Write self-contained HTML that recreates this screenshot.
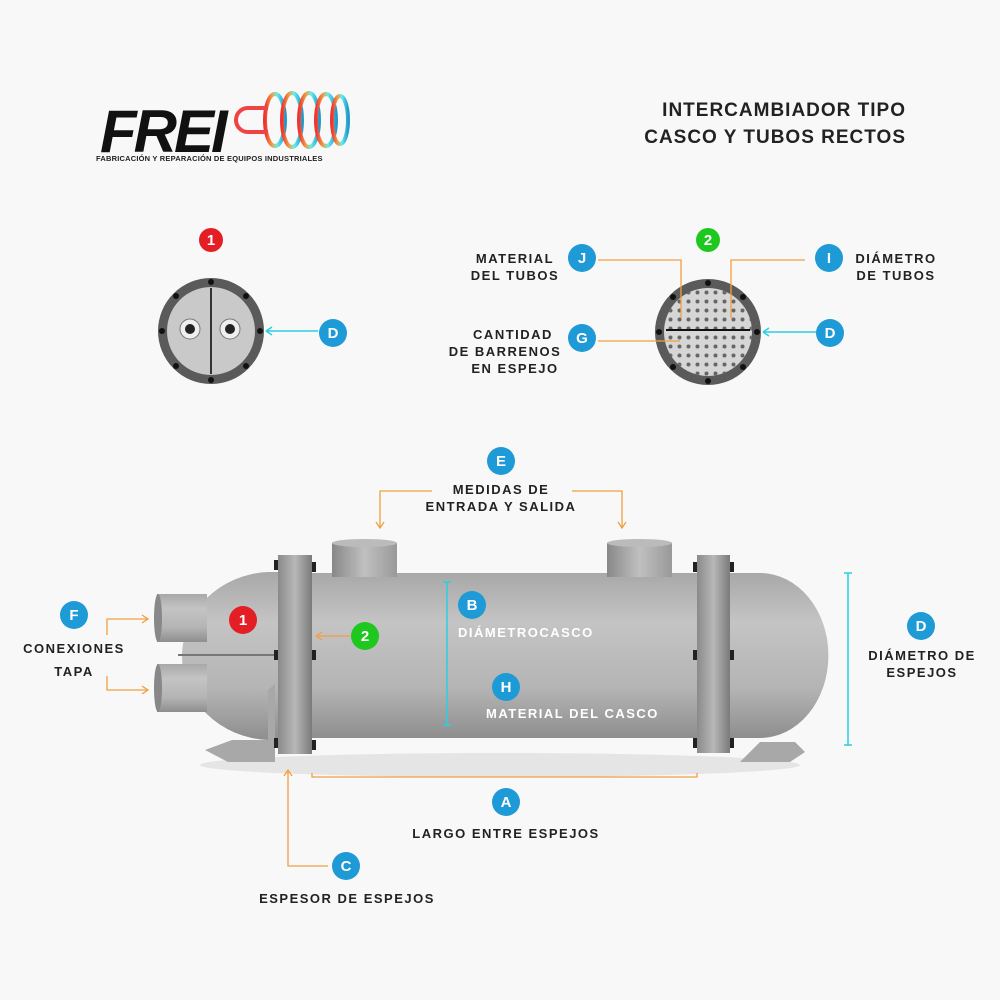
<!DOCTYPE html>
<html><head><meta charset="utf-8"><style>
body{margin:0;background:#f8f8f8;}
svg{display:block}
text{font-family:"Liberation Sans",sans-serif;font-weight:bold;fill:#222;letter-spacing:1.5px}
.c{fill:#fff;font-size:15px;text-anchor:middle;letter-spacing:0}
.l{font-size:13px;text-anchor:middle}
</style></head><body>
<svg width="1000" height="1000" viewBox="0 0 1000 1000">
<defs>
<linearGradient id="sh" x1="0" y1="0" x2="0" y2="1">
<stop offset="0" stop-color="#a8a8a8"/><stop offset="0.3" stop-color="#c4c4c4"/><stop offset="0.7" stop-color="#b4b4b4"/><stop offset="1" stop-color="#8e8e8e"/></linearGradient>
<linearGradient id="fl" x1="0" y1="0" x2="1" y2="0">
<stop offset="0" stop-color="#8a8a8a"/><stop offset="0.5" stop-color="#b8b8b8"/><stop offset="1" stop-color="#7a7a7a"/></linearGradient>
<linearGradient id="nz" x1="0" y1="0" x2="1" y2="0">
<stop offset="0" stop-color="#888"/><stop offset="0.5" stop-color="#c0c0c0"/><stop offset="1" stop-color="#999"/></linearGradient>
<pattern id="holes" width="9" height="9" patternUnits="userSpaceOnUse"><circle cx="4.5" cy="4.5" r="2" fill="#666"/></pattern>
<linearGradient id="lg" x1="0" y1="0" x2="1" y2="0"><stop offset="0" stop-color="#e33"/><stop offset="0.35" stop-color="#f0a040"/><stop offset="0.6" stop-color="#6ee"/><stop offset="1" stop-color="#29c"/></linearGradient>
</defs>
<!-- logo -->
<text x="100" y="152" style="font-size:60px;font-style:italic;font-weight:900;fill:#111;letter-spacing:-3px">FREI</text>
<g fill="none" stroke="url(#lg)" stroke-width="4">
<ellipse cx="275" cy="120" rx="10" ry="26"/><ellipse cx="292" cy="120" rx="10" ry="27"/><ellipse cx="309" cy="120" rx="10" ry="27"/><ellipse cx="326" cy="120" rx="10" ry="26"/><ellipse cx="340" cy="120" rx="8" ry="24"/>
<path d="M268 108 h-20 a12 12 0 0 0 0 24 h20" stroke="#e44"/></g>
<text x="96" y="161" style="font-size:7.5px;letter-spacing:0.2px">FABRICACIÓN Y REPARACIÓN DE EQUIPOS INDUSTRIALES</text>
<text x="906" y="116" style="font-size:19px;text-anchor:end;letter-spacing:1px">INTERCAMBIADOR TIPO</text>
<text x="906" y="143" style="font-size:19px;text-anchor:end;letter-spacing:1px">CASCO Y TUBOS RECTOS</text>

<!-- view 1 -->
<circle cx="211" cy="240" r="12" fill="#e31e24"/><text class="c" x="211" y="245">1</text>
<circle cx="211" cy="331" r="53" fill="#5a5a5a"/><circle cx="211" cy="331" r="44" fill="#c9c9c9"/>
<line x1="211" y1="288" x2="211" y2="374" stroke="#333" stroke-width="2"/>
<circle cx="190" cy="329" r="10" fill="#eee" stroke="#777"/><circle cx="190" cy="329" r="5" fill="#222"/>
<circle cx="230" cy="329" r="10" fill="#eee" stroke="#777"/><circle cx="230" cy="329" r="5" fill="#222"/>
<g fill="#111"><circle cx="211" cy="282" r="3"/><circle cx="211" cy="380" r="3"/><circle cx="162" cy="331" r="3"/><circle cx="260" cy="331" r="3"/><circle cx="176" cy="296" r="3"/><circle cx="246" cy="296" r="3"/><circle cx="176" cy="366" r="3"/><circle cx="246" cy="366" r="3"/></g>
<line x1="266" y1="331" x2="318" y2="331" stroke="#2ad0e0" stroke-width="1.5"/><path d="M266 331 l6 -4 M266 331 l6 4" stroke="#2ad0e0" stroke-width="1.5"/>
<circle cx="333" cy="333" r="14" fill="#1e9ad6"/><text class="c" x="333" y="338">D</text>

<!-- view 2 -->
<circle cx="708" cy="240" r="12" fill="#1ec81e"/><text class="c" x="708" y="245">2</text>
<circle cx="708" cy="332" r="53" fill="#5a5a5a"/><circle cx="708" cy="332" r="44" fill="#d6d6d6"/>
<circle cx="708" cy="332" r="44" fill="url(#holes)"/>
<line x1="666" y1="330" x2="750" y2="330" stroke="#111" stroke-width="2"/>
<g fill="#111"><circle cx="708" cy="283" r="3"/><circle cx="708" cy="381" r="3"/><circle cx="659" cy="332" r="3"/><circle cx="757" cy="332" r="3"/><circle cx="673" cy="297" r="3"/><circle cx="743" cy="297" r="3"/><circle cx="673" cy="367" r="3"/><circle cx="743" cy="367" r="3"/></g>
<g stroke="#f0a040" stroke-width="1.3" fill="none"><path d="M598 260 H681 V318"/><path d="M805 260 H731 V318"/><path d="M598 341 H680"/></g>
<line x1="763" y1="332" x2="816" y2="332" stroke="#2ad0e0" stroke-width="1.5"/><path d="M763 332 l6 -4 M763 332 l6 4" stroke="#2ad0e0" stroke-width="1.5"/>
<circle cx="582" cy="258" r="14" fill="#1e9ad6"/><text class="c" x="582" y="263">J</text>
<circle cx="582" cy="338" r="14" fill="#1e9ad6"/><text class="c" x="582" y="343">G</text>
<circle cx="829" cy="258" r="14" fill="#1e9ad6"/><text class="c" x="829" y="263">I</text>
<circle cx="830" cy="333" r="14" fill="#1e9ad6"/><text class="c" x="830" y="338">D</text>
<text class="l" x="515" y="263">MATERIAL</text><text class="l" x="515" y="280">DEL TUBOS</text>
<text class="l" x="513" y="339">CANTIDAD</text><text class="l" x="505" y="356">DE BARRENOS</text><text class="l" x="515" y="373">EN ESPEJO</text>
<text class="l" x="896" y="263">DIÁMETRO</text><text class="l" x="896" y="280">DE TUBOS</text>

<!-- E -->
<circle cx="501" cy="461" r="14" fill="#1e9ad6"/><text class="c" x="501" y="466">E</text>
<text class="l" x="501" y="494">MEDIDAS DE</text><text class="l" x="501" y="511">ENTRADA Y SALIDA</text>
<g stroke="#f0a040" stroke-width="1.3" fill="none"><path d="M432 491 H380 V528"/><path d="M376 522 l4 6 l4 -6"/><path d="M572 491 H622 V528"/><path d="M618 522 l4 6 l4 -6"/></g>

<!-- shadow -->
<ellipse cx="500" cy="765" rx="300" ry="12" fill="#ddd" opacity="0.7"/>
<!-- heads -->
<path d="M720 573 H760 A68 82 0 0 1 760 738 H720 Z" fill="url(#sh)"/>
<path d="M280 572 H268 A90 84 0 0 0 182 655 A90 84 0 0 0 268 740 H280 Z" fill="url(#sh)"/>
<line x1="178" y1="655" x2="275" y2="655" stroke="#777" stroke-width="2"/>
<!-- shell -->
<rect x="300" y="573" width="410" height="165" fill="url(#sh)"/>
<!-- top nozzles -->
<rect x="332" y="543" width="65" height="34" fill="url(#nz)"/><ellipse cx="364.5" cy="543" rx="32.5" ry="4" fill="#bbb"/>
<rect x="607" y="543" width="65" height="34" fill="url(#nz)"/><ellipse cx="639.5" cy="543" rx="32.5" ry="4" fill="#bbb"/>
<!-- left nozzles -->
<rect x="157" y="594" width="50" height="48" fill="url(#sh)"/><ellipse cx="158" cy="618" rx="4" ry="24" fill="#888"/>
<rect x="157" y="664" width="50" height="48" fill="url(#sh)"/><ellipse cx="158" cy="688" rx="4" ry="24" fill="#888"/>
<!-- saddles -->
<path d="M205 750 L232 740 H268 V690 L275 684 V762 H228 Z" fill="#a8a8a8"/>
<path d="M760 742 H795 L805 752 L790 762 H740 Z" fill="#a8a8a8"/>
<!-- flanges -->
<rect x="278" y="555" width="34" height="199" fill="url(#fl)"/>
<rect x="697" y="555" width="33" height="198" fill="url(#fl)"/>
<g fill="#222"><rect x="274" y="560" width="4" height="10"/><rect x="312" y="562" width="4" height="10"/><rect x="274" y="650" width="4" height="10"/><rect x="312" y="650" width="4" height="10"/><rect x="274" y="738" width="4" height="10"/><rect x="312" y="740" width="4" height="10"/>
<rect x="693" y="562" width="4" height="10"/><rect x="730" y="562" width="4" height="10"/><rect x="693" y="650" width="4" height="10"/><rect x="730" y="650" width="4" height="10"/><rect x="693" y="738" width="4" height="10"/><rect x="730" y="738" width="4" height="10"/></g>

<!-- labels on body -->
<circle cx="243" cy="620" r="14" fill="#e31e24"/><text class="c" x="243" y="625">1</text>
<circle cx="365" cy="636" r="14" fill="#1ec81e"/><text class="c" x="365" y="641">2</text>
<path d="M350 636 H316 M316 636 l6 -4 M316 636 l6 4" stroke="#f0a040" stroke-width="1.3" fill="none"/>
<g stroke="#2ad0e0" stroke-width="1.5"><line x1="447" y1="582" x2="447" y2="725"/><line x1="443" y1="582" x2="451" y2="582"/><line x1="443" y1="725" x2="451" y2="725"/>
<line x1="848" y1="573" x2="848" y2="745"/><line x1="844" y1="573" x2="852" y2="573"/><line x1="844" y1="745" x2="852" y2="745"/></g>
<circle cx="472" cy="605" r="14" fill="#1e9ad6"/><text class="c" x="472" y="610">B</text>
<text x="458" y="637" style="font-size:13px;fill:#fff">DIÁMETROCASCO</text>
<circle cx="506" cy="687" r="14" fill="#1e9ad6"/><text class="c" x="506" y="692">H</text>
<text x="486" y="718" style="font-size:13px;fill:#fff">MATERIAL DEL CASCO</text>
<circle cx="921" cy="626" r="14" fill="#1e9ad6"/><text class="c" x="921" y="631">D</text>
<text class="l" x="922" y="660">DIÁMETRO DE</text><text class="l" x="922" y="677">ESPEJOS</text>

<!-- F -->
<circle cx="74" cy="615" r="14" fill="#1e9ad6"/><text class="c" x="74" y="620">F</text>
<text class="l" x="74" y="653">CONEXIONES</text><text class="l" x="74" y="676">TAPA</text>
<g stroke="#f0a040" stroke-width="1.3" fill="none"><path d="M107 635 V619 H148 M142 615 l6 4 l-6 4"/><path d="M107 676 V690 H148 M142 686 l6 4 l-6 4"/></g>

<!-- A -->
<g stroke="#f0a040" stroke-width="1.3" fill="none"><path d="M312 773 V777 H697 V773"/></g>
<circle cx="506" cy="802" r="14" fill="#1e9ad6"/><text class="c" x="506" y="807">A</text>
<text class="l" x="506" y="838">LARGO ENTRE ESPEJOS</text>
<!-- C -->
<g stroke="#f0a040" stroke-width="1.3" fill="none"><path d="M288 770 V866 H328"/><path d="M284 776 l4 -6 l4 6"/></g>
<circle cx="346" cy="866" r="14" fill="#1e9ad6"/><text class="c" x="346" y="871">C</text>
<text class="l" x="347" y="903">ESPESOR DE ESPEJOS</text>
</svg>
</body></html>
